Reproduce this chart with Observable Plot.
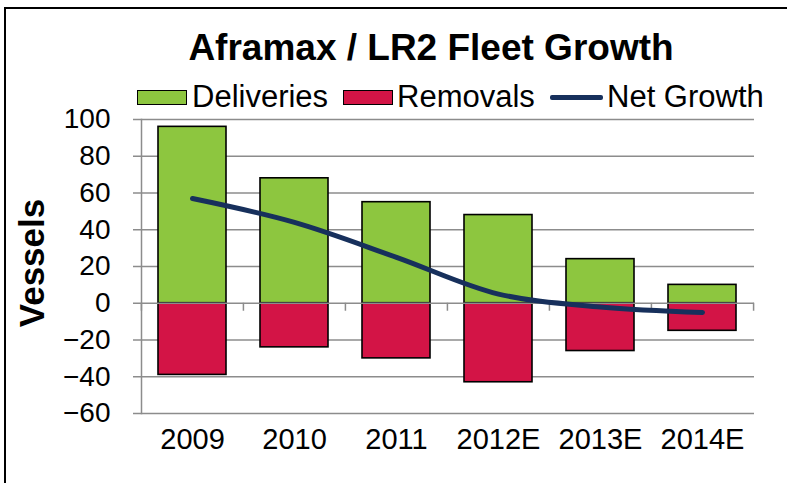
<!DOCTYPE html>
<html>
<head>
<meta charset="utf-8">
<script src="https://cdn.jsdelivr.net/npm/d3@7"></script>
<script src="https://cdn.jsdelivr.net/npm/@observablehq/plot@0.6"></script>
<style>
  html, body { margin: 0; padding: 0; background: #fff; }
  body { width: 787px; height: 483px; overflow: hidden; position: relative; font-family: "Liberation Sans", Arial, sans-serif; }
  #frame { position: absolute; left: 4px; top: 7px; width: 820px; height: 520px; border: 2px solid #000; box-sizing: border-box; }
  #chart { position: absolute; left: 0; top: 0; }
  .title { position: absolute; left: 0; width: 862px; top: 28px; text-align: center; font-weight: bold; font-size: 37px; line-height: 40px; color: #000; }
  .lg { position: absolute; font-size: 31px; line-height: 30px; color: #000; white-space: nowrap; }
  .sw { position: absolute; box-sizing: border-box; border: 1.5px solid #000; }
  .ylab { position: absolute; left: 32px; top: 263px; transform: translate(-50%, -50%) rotate(-90deg); font-weight: bold; font-size: 35px; white-space: nowrap; }
</style>
</head>
<body>
<div id="frame"></div>
<div id="chart"></div>
<div class="title">Aframax / LR2 Fleet Growth</div>
<div class="sw" style="left:137px;top:90px;width:50px;height:15px;background:#8DC63F"></div>
<div class="lg" style="left:192px;top:82px">Deliveries</div>
<div class="sw" style="left:343px;top:90px;width:50px;height:15px;background:#D31446"></div>
<div class="lg" style="left:397px;top:82px">Removals</div>
<div style="position:absolute;left:550px;top:95px;width:53px;height:5px;background:#17305C;border-radius:2px"></div>
<div class="lg" style="left:607px;top:82px">Net Growth</div>
<div class="ylab">Vessels</div>
<script>
const categories = ["2009", "2010", "2011", "2012E", "2013E", "2014E"];
const deliveries = [96, 68, 55, 48, 24, 10];
const removals = [-39, -24, -30, -43, -26, -15];
const netGrowth = [57, 44, 25, 5, -2, -5];
const yTicks = [-60, -40, -20, 0, 20, 40, 60, 80, 100];

const rows = categories.map((c, i) => ({cat: c, del: deliveries[i], rem: removals[i], net: netGrowth[i]}));

const W = 787, H = 483;
const mL = 141, mR = 33, mT = 119, mB = 70;
const step = (W - mL - mR) / categories.length;
const grid = "#8C8C8C";

const chart = Plot.plot({
  width: W,
  height: H,
  marginLeft: mL,
  marginRight: mR,
  marginTop: mT,
  marginBottom: mB,
  style: {fontFamily: "'Liberation Sans', Arial, sans-serif", background: "transparent", color: "#000"},
  x: {domain: categories, paddingInner: 0.33, paddingOuter: 0.165, label: null},
  y: {domain: [-60, 100], label: null},
  marks: [
    Plot.ruleY(yTicks.filter(d => d !== 0), {stroke: grid, strokeWidth: 1.5, insetLeft: -8}),
    Plot.frame({anchor: "left", stroke: grid, strokeWidth: 1.5}),
    Plot.barY(rows, {x: "cat", y1: 0, y2: "del", fill: "#8DC63F", stroke: "#000", strokeWidth: 1.6}),
    Plot.barY(rows, {x: "cat", y1: 0, y2: "rem", fill: "#D31446", stroke: "#000", strokeWidth: 1.6}),
    Plot.ruleY([0], {stroke: grid, strokeWidth: 1.5, insetLeft: -8}),
    Plot.ruleX(categories, {x: d => d, y1: 0, y2: 0, dx: -step / 2, insetBottom: -8, stroke: grid, strokeWidth: 1.5}),
    Plot.ruleX(categories.slice(-1), {x: d => d, y1: 0, y2: 0, dx: step / 2, insetBottom: -8, stroke: grid, strokeWidth: 1.5}),
    Plot.lineY(rows, {x: "cat", y: "net", stroke: "#17305C", strokeWidth: 5, curve: "catmull-rom", strokeLinecap: "round"}),
    Plot.axisY(yTicks, {tickSize: 0, tickPadding: 31, fontSize: 28, stroke: "none"}),
    Plot.axisX({tickSize: 0, tickPadding: 15, fontSize: 29})
  ]
});
document.getElementById("chart").appendChild(chart);
</script>
</body>
</html>
